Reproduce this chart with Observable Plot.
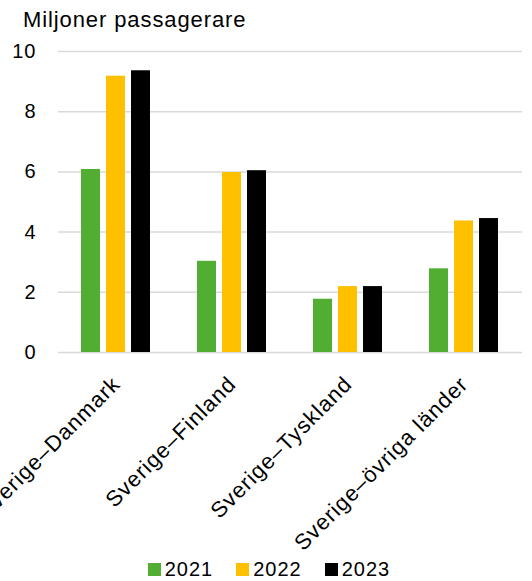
<!DOCTYPE html>
<html><head><meta charset="utf-8">
<script src="https://cdn.jsdelivr.net/npm/d3@7"></script>
<script src="https://cdn.jsdelivr.net/npm/@observablehq/plot@0.6"></script>
<style>
body{margin:0;background:#fff;font-family:"Liberation Sans",Arial,sans-serif;color:#000;width:532px;height:581px;overflow:hidden;}
#title{font-size:22px;line-height:26px;padding:7px 0 0 23px;height:26px;letter-spacing:0.9px;white-space:nowrap;}
#chart svg{display:block;}
#chart g[aria-label$="tick label"] text{letter-spacing:1px;}
#legend{display:flex;justify-content:center;gap:23px;font-size:20px;line-height:24px;padding:1px 0 0 6px;letter-spacing:1px;}
#legend .item{display:flex;align-items:center;gap:4px;}
#legend .sw{width:13px;height:13px;display:inline-block;}
</style></head><body>
<div id="title">Miljoner passagerare</div>
<div id="chart"></div>
<div id="legend"></div>
<script>
const categories = ["Sverige–Danmark", "Sverige–Finland", "Sverige–Tyskland", "Sverige–övriga länder"];
const years = ["2021", "2022", "2023"];
const values2021 = [6.08, 3.03, 1.77, 2.78];
const values2022 = [9.18, 5.98, 2.19, 4.37];
const values2023 = [9.36, 6.04, 2.19, 4.45];
const colors = ["#52ae32", "#ffc000", "#000000"];
const yTicks = [0, 2, 4, 6, 8, 10];

const series = [values2021, values2022, values2023];
const rows = categories.flatMap((c, i) => series.map((v, j) => ({category: c, year: years[j], value: v[i]})));

const chart = Plot.plot({
  width: 532, height: 523,
  marginLeft: 58, marginRight: 0, marginTop: 18, marginBottom: 204,
  style: {fontFamily: '"Liberation Sans", Arial, sans-serif', fontSize: "20px", color: "#000", background: "#fff"},
  fx: {domain: categories, paddingInner: 0, paddingOuter: 0.0314, align: 0, label: null},
  x: {domain: years, paddingInner: 0.2308, paddingOuter: 0.859, axis: null},
  y: {domain: [0, 10], label: null},
  color: {domain: years, range: colors},
  marks: [
    Plot.gridY(yTicks, {stroke: "#d9d9d9", strokeOpacity: 1, strokeWidth: 1.5}),
    Plot.axisY(yTicks, {tickSize: 0, tickPadding: 22, label: null, fontSize: 20}),
    Plot.axisFx({anchor: "bottom", tickRotate: -45, tickSize: 0, tickPadding: 28, label: null, fontSize: 22}),
    Plot.barY(rows, {fx: "category", x: "year", y: "value", fill: "year"})
  ]
});
document.getElementById("chart").append(chart);

const legend = document.getElementById("legend");
years.forEach((y, i) => {
  const item = document.createElement("span");
  item.className = "item";
  const sw = document.createElement("span");
  sw.className = "sw";
  sw.style.background = colors[i];
  item.append(sw, document.createTextNode(y));
  legend.append(item);
});
</script>
</body></html>
